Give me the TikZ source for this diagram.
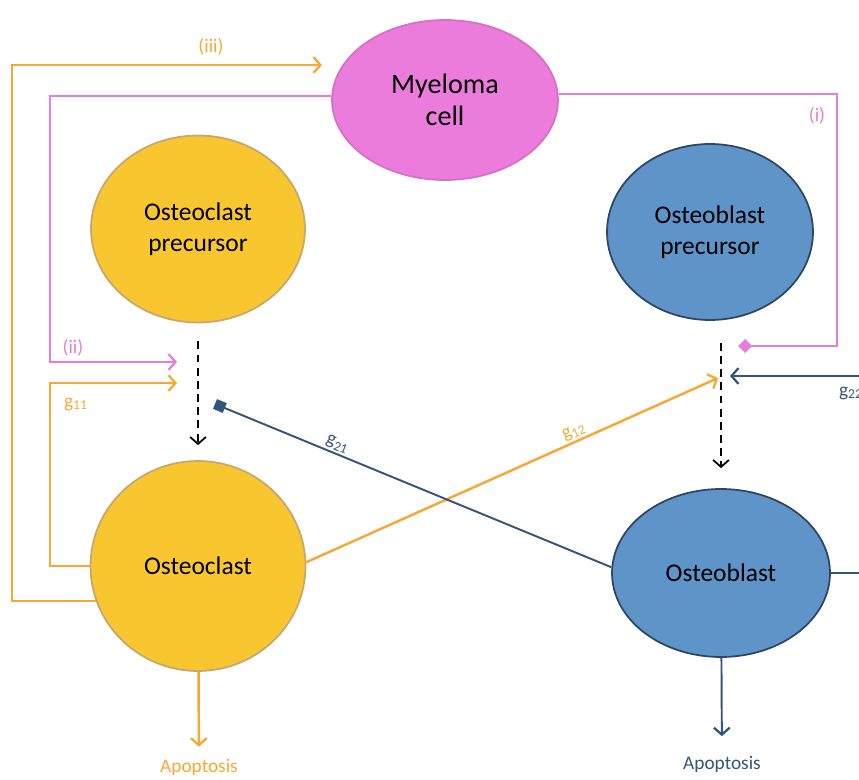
\documentclass[tikz,border=0pt]{standalone}
\usepackage{fontspec}
\setmainfont{Carlito}
\usetikzlibrary{shapes.geometric,arrows.meta,calc}
\definecolor{oclr}{RGB}{247,168,52}
\definecolor{pclr}{RGB}{226,128,214}
\definecolor{myfill}{RGB}{236,124,220}
\definecolor{myline}{RGB}{212,112,198}
\definecolor{ocfill}{RGB}{248,199,48}
\definecolor{ocline}{RGB}{200,166,112}
\definecolor{obfill}{RGB}{95,148,200}
\definecolor{obline}{RGB}{45,70,100}
\definecolor{bclr}{RGB}{52,85,122}
\begin{document}
\begin{tikzpicture}[x=0.02cm,y=-0.02cm]
            \tikzset{
                cell/.style={ellipse,inner sep=0pt,line width=1pt,align=center,font=\fontsize{14.5}{17.5}\selectfont},
                barb/.style={-{Straight Barb[length=4pt,width=9pt,line width=1.3pt]}},
                oline/.style={draw=oclr,line width=1.4pt},
                pline/.style={draw=pclr,line width=1.1pt},
                bline/.style={draw=bclr,line width=1.1pt},
                lbl/.style={font=\fontsize{11}{13}\selectfont,inner sep=1pt},
                flow/.style={dashed,dash pattern=on 4.5pt off 3pt,line width=1pt,-{Straight Barb[length=4pt,width=9pt,line width=1pt]}},}
            \useasboundingbox (0,0) rectangle (859,780);
            \clip (0,0) rectangle (859,780);
            % cells
            \node[cell,fill=myfill,draw=myline,minimum width=4.52cm,minimum height=3.2cm,font=\fontsize{16}{18.5}\selectfont] (my) at (445,100) {Myeloma\\cell};
            \node[cell,fill=ocfill,draw=ocline,minimum width=4.28cm,minimum height=3.74cm] (ocp) at (198,229) {Osteoclast\\precursor};
            \node[cell,fill=obfill,draw=obline,minimum width=4.12cm,minimum height=3.52cm] (obp) at (710,232) {Osteoblast\\precursor};
            \node[cell,fill=ocfill,draw=ocline,minimum width=4.3cm,minimum height=4.2cm] (oc) at (198,566) {Osteoclast};
            \node[cell,fill=obfill,draw=obline,minimum width=4.36cm,minimum height=3.36cm] (ob) at (721,573) {Osteoblast};
            \node[lbl,text=oclr] (apoc) at (199,767) {Apoptosis};
            \node[lbl,text=bclr] (apob) at (722,764) {Apoptosis};
            % ends near the dashed arrows
            \coordinate (iiend) at (177,362);
            \coordinate (gaend) at (177,383);
            \coordinate (gbend) at (215,404);
            \coordinate (iend) at (738,346);
            \coordinate (gcend) at (730,376);
            \coordinate (gdend) at (718,378);
            \coordinate (iiiend) at (322,65);
            % differentiation
            \draw[flow,shorten <=0.36cm,shorten >=0.3cm] (ocp) -- (oc);
            \draw[flow,shorten <=0.44cm,shorten >=0.4cm] (obp.south -| ob.north) -- (ob.north);
            \draw[oline,barb,shorten >=0.2cm] (oc) -- (apoc);
            \draw[bline,barb,shorten >=0.35cm] (ob) -- (apob);
            % feedback loops
            \draw[oline,barb] (oc.199) -| (12,65) -- (iiiend);
            \node[lbl,text=oclr] at (211,47) {(iii)};
            \draw[pline,barb] (my.178) -| (50,362) -- (iiend);
            \node[lbl,text=pclr] at (73,348) {(ii)};
            \draw[oline,barb] (oc.west) -| (50,383) -- (gaend);
            \node[lbl,text=oclr,anchor=west] at (62,404) {g\textsubscript{11}};
            \draw[pline,-{Diamond[length=8pt,width=8pt]}] (my.3) -| (837,346) -- (iend);
            \node[lbl,text=pclr] at (817,116) {(i)};
            \draw[oline,barb] (oc.2) -- (gdend) node[lbl,text=oclr,sloped,above,pos=0.66] {g\textsubscript{12}};
            \draw[bline,{Square[length=6pt,width=6pt]}-] (gbend) -- (ob.177) node[lbl,text=bclr,sloped,above,pos=0.3] {g\textsubscript{21}};
            \draw[bline,barb] (ob.east) -| (875,376) -- (gcend);
            \node[lbl,text=bclr,anchor=west] at (837,393) {g\textsubscript{22}};
        \end{tikzpicture}
\end{document}
